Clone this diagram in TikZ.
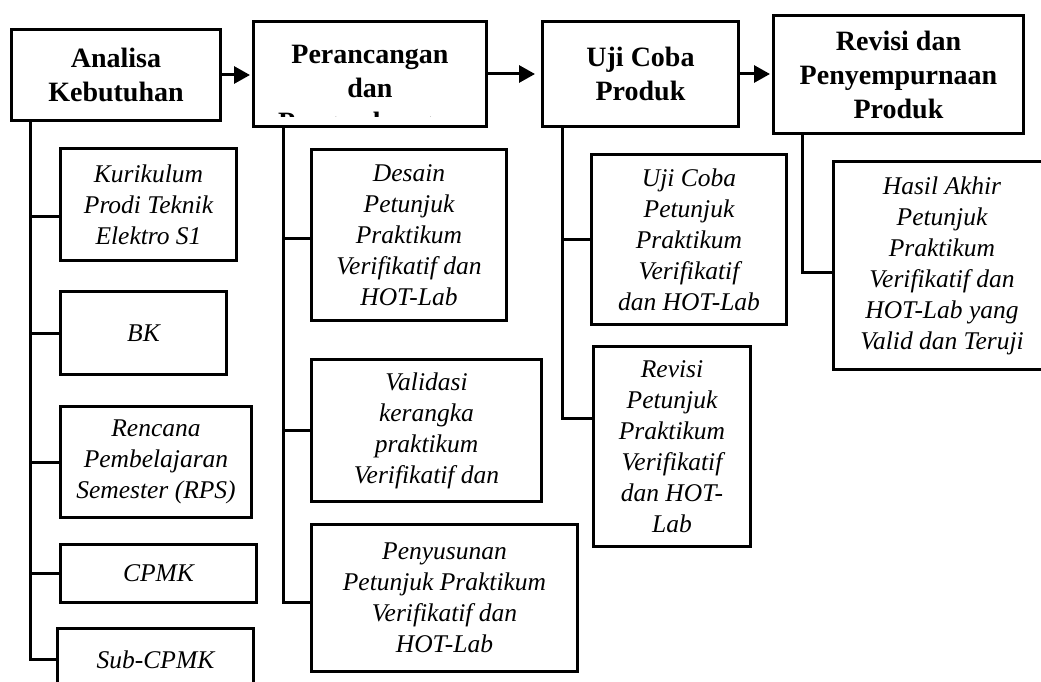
\documentclass[tikz,border=0pt]{standalone}
\usepackage{fontspec}
\setmainfont{Liberation Serif}
\usepackage{tikz}
\usetikzlibrary{arrows.meta}

\tikzset{
  hbox/.style={draw, line width=3pt, inner sep=0pt, align=center, font=\fontsize{28}{34}\selectfont\bfseries},
  sbox/.style={draw, line width=3pt, inner sep=0pt, align=center, font=\fontsize{25.5}{31}\selectfont\itshape},
  tree/.style={line width=3pt},
  flow/.style={line width=3pt, -{Triangle[length=16pt,width=17pt]}, shorten >=2pt},
}

\begin{document}
\begin{tikzpicture}[x=1pt,y=-1pt]
   \useasboundingbox (0,0) rectangle (1041,682);
   \draw (116,75) node[hbox, minimum width=209pt, minimum height=91pt] (analisa) {Analisa\\Kebutuhan};
   \draw (370,74) node[hbox, minimum width=233pt, minimum height=105pt] (peran) {};
   \begin{scope}
     \clip (253,20) rectangle (487,117);
     \draw (370,44) node[hbox, draw=none, anchor=north] (perantext) {Perancangan\\dan\\Pengembangan};
   \end{scope}
   \draw (640.5,74) node[hbox, minimum width=196pt, minimum height=105pt] (uji) {Uji Coba\\Produk};
   \draw (898.5,74.5) node[hbox, minimum width=250pt, minimum height=118pt] (revisi) {Revisi dan\\Penyempurnaan\\Produk};

     \draw (148.5,204.5) node[sbox, minimum width=176pt, minimum height=112pt] (kurikulum) {Kurikulum\\Prodi Teknik\\Elektro S1};
     \draw (143.5,333) node[sbox, minimum width=166pt, minimum height=83pt] (bk) {BK};
     \draw (156,462) node[sbox, minimum width=191pt, minimum height=111pt] (rps) {Rencana\\Pembelajaran\\Semester (RPS)};
     \draw (158.5,573.5) node[sbox, minimum width=196pt, minimum height=58pt] (cpmk) {CPMK};
     \draw (155.5,659.5) node[sbox, minimum width=196pt, minimum height=62pt] (subcpmk) {Sub-CPMK};

     \draw (409,235) node[sbox, minimum width=195pt, minimum height=171pt] (desain) {Desain\\Petunjuk\\Praktikum\\Verifikatif dan\\HOT-Lab};
     \draw (426.5,430.5) node[sbox, minimum width=230pt, minimum height=142pt] (validasi) {Validasi\\kerangka\\praktikum\\Verifikatif dan};
     \draw (444.5,598) node[sbox, minimum width=266pt, minimum height=147pt] (penyusunan) {Penyusunan\\Petunjuk Praktikum\\Verifikatif dan\\HOT-Lab};

     \draw (689,239.5) node[sbox, minimum width=195pt, minimum height=170pt] (ujipetunjuk) {Uji Coba\\Petunjuk\\Praktikum\\Verifikatif\\dan HOT-Lab};
     \draw (672,446.5) node[sbox, minimum width=157pt, minimum height=200pt] (revpetunjuk) {Revisi\\Petunjuk\\Praktikum\\Verifikatif\\dan HOT-\\Lab};

     \draw (942,265.5) node[sbox, minimum width=217pt, minimum height=208pt] (hasil) {Hasil Akhir\\Petunjuk\\Praktikum\\Verifikatif dan\\HOT-Lab yang\\Valid dan Teruji};

   \path[flow] (analisa.east) edge (analisa.east -| peran.west);
   \path[flow, shorten >=6pt] (uji.west -| peran.east) edge (uji.west);
   \path[flow] (uji.east) edge (uji.east -| revisi.west);

   \draw[tree] ([xshift=20pt]analisa.south west) |- (subcpmk.west);
   \draw[tree] ([xshift=20pt]analisa.south west) |- ([yshift=-12pt]kurikulum.west);
   \draw[tree] ([xshift=20pt]analisa.south west) |- (bk.west);
   \draw[tree] ([xshift=20pt]analisa.south west) |- (rps.west);
   \draw[tree] ([xshift=20pt]analisa.south west) |- (cpmk.west);

   \draw[tree] ([xshift=31pt]peran.south west) |- ([yshift=-4pt]penyusunan.west);
   \draw[tree] ([xshift=31pt]peran.south west) |- ([yshift=-3pt]desain.west);
   \draw[tree] ([xshift=31pt]peran.south west) |- (validasi.west);

   \draw[tree] ([xshift=21pt]uji.south west) |- ([yshift=28pt]revpetunjuk.west);
   \draw[tree] ([xshift=21pt]uji.south west) |- (ujipetunjuk.west);

   \draw[tree] ([xshift=30pt]revisi.south west) |- ([yshift=-6.5pt]hasil.west);
\end{tikzpicture}
\end{document}
